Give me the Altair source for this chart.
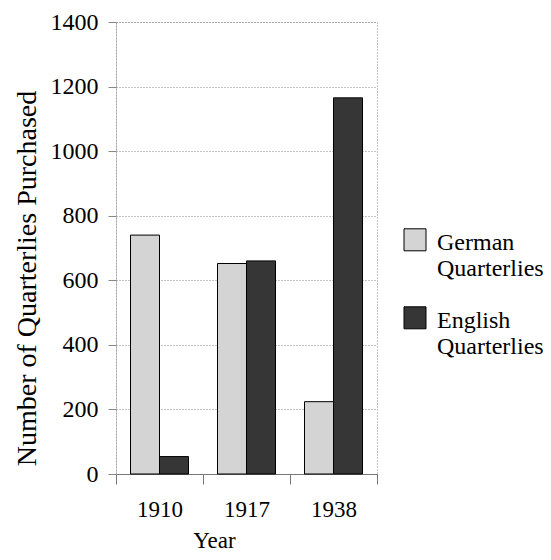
import altair as alt
import pandas as pd

years = ["1910", "1917", "1938"]
series = ["German Quarterlies", "English Quarterlies"]
german = [740, 652, 224]
english = [54, 660, 1165]
y_ticks = [0, 200, 400, 600, 800, 1000, 1200, 1400]

rows = []
for i, yr in enumerate(years):
    rows.append({"Year": yr, "Series": series[0], "Count": german[i]})
    rows.append({"Year": yr, "Series": series[1], "Count": english[i]})
df = pd.DataFrame(rows)

FONT = "Liberation Serif, Times New Roman, DejaVu Serif, serif"
# square swatch raised so it lines up with the first line of each two-line label
SWATCH = "M-1,-0.2H1V1.8H-1Z"

chart = alt.Chart(df).mark_bar(stroke="black", strokeWidth=1).encode(
    x=alt.X(
        "Year:N", sort=years,
        scale=alt.Scale(paddingInner=0, paddingOuter=0),
        axis=alt.Axis(
            title="Year", labelAngle=0, tickBand="extent", tickSize=10,
            labelPadding=14, grid=False, domainColor="#777", tickColor="#777",
            labelFont=FONT, titleFont=FONT,
            labelFontSize=23, titleFontSize=23, titleX=98, titleY=73,
            titleBaseline="alphabetic", titleFontWeight="normal",
            labelColor="black", titleColor="black",
        ),
    ),
    xOffset=alt.XOffset(
        "Series:N", sort=series,
        scale=alt.Scale(paddingOuter=0.5, paddingInner=0),
    ),
    y=alt.Y(
        "Count:Q",
        scale=alt.Scale(domain=[0, 1400], nice=False),
        axis=alt.Axis(
            title="Number of Quarterlies Purchased", values=y_ticks, format="d",
            tickSize=8, labelPadding=10, domainColor="#888", domainDash=[1, 2],
            tickColor="#888", gridColor="#888", gridDash=[1, 2], grid=True,
            labelFont=FONT, titleFont=FONT,
            labelFontSize=24, titleFontSize=28, titleFontWeight="normal",
            titleX=-89, titleY=256, titleAngle=270, titleAlign="center",
            titleBaseline="middle", labelColor="black", titleColor="black",
        ),
    ),
    color=alt.Color(
        "Series:N", sort=series,
        scale=alt.Scale(domain=series, range=["#d4d4d4", "#363636"]),
        legend=alt.Legend(
            title=None, orient="none", legendX=287, legendY=197, padding=0,
            symbolType=SWATCH, symbolSize=484, symbolStrokeColor="black",
            symbolStrokeWidth=1, labelFontSize=24, labelOffset=10,
            labelFont=FONT,
            labelExpr="split(datum.label, ' ')", labelBaseline="top",
            rowPadding=16, labelColor="black", labelLimit=300,
        ),
    ),
).properties(
    width=261, height=452,
    padding={"left": 108, "top": 14, "right": 166, "bottom": 78},
    autosize=alt.AutoSizeParams(type="none"),
).configure(
    font=FONT,
).configure_view(
    stroke="#888", strokeDash=[1, 2],
)

chart.save("out.html", embed_options={"renderer": "svg", "actions": False})
